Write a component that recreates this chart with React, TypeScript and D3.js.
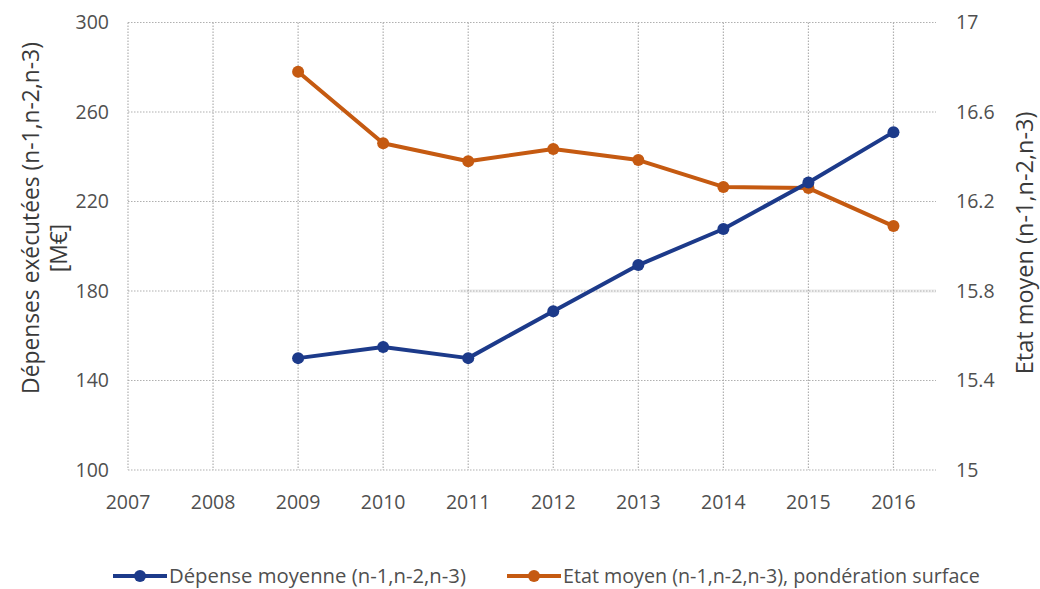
import React from "react";
import * as d3 from "d3";

const years = [2009, 2010, 2011, 2012, 2013, 2014, 2015, 2016];
const depenseMoyenne = [150, 155, 150, 171, 191.6, 207.7, 228.5, 251];
const etatMoyen = [16.78, 16.46, 16.38, 16.435, 16.385, 16.265, 16.26, 16.09];

const xTicks = [2007, 2008, 2009, 2010, 2011, 2012, 2013, 2014, 2015, 2016];
const leftTicks = [100, 140, 180, 220, 260, 300];
const rightTicks = [15, 15.4, 15.8, 16.2, 16.6, 17];

const W = 1040;
const H = 589;
const BLUE = "#1c3a8a";
const ORANGE = "#c55a11";
const FONT = "'Open Sans', sans-serif";
const TICK = "#4f4f4f";

export default function App() {
  const x = d3.scaleLinear().domain([2007, 2016.5]).range([128, 936]);
  const yL = d3.scaleLinear().domain([100, 300]).range([470, 22.5]);
  const yR = d3.scaleLinear().domain([15, 17]).range([470, 22.5]);

  const lineL = d3
    .line<number>()
    .x((_, i) => x(years[i]))
    .y((d) => yL(d));
  const lineR = d3
    .line<number>()
    .x((_, i) => x(years[i]))
    .y((d) => yR(d));

  const [x0, x1] = x.range();

  return (
    <svg
      width={W}
      height={H}
      style={{ position: "absolute", left: 0, top: 0, background: "#fff" }}
      fontFamily={FONT}
    >
      {/* faint band along the 180 gridline */}
      <line x1={x(2010.9)} x2={x1} y1={yL(180)} y2={yL(180)} stroke="#f1f1f1" strokeWidth={3.5} />

      {/* grid */}
      <g stroke="#b0b0b0" strokeWidth={1.2} strokeDasharray="1.5,1.5" fill="none">
        {leftTicks.map((t) => (
          <line key={"h" + t} x1={x0} x2={x1} y1={yL(t)} y2={yL(t)} />
        ))}
        {xTicks.map((t) => (
          <line key={"v" + t} x1={x(t)} x2={x(t)} y1={yL(300)} y2={yL(100)} />
        ))}
      </g>

      {/* left ticks */}
      <g fill={TICK} fontSize={19.5} textAnchor="end">
        {leftTicks.map((t) => (
          <text key={t} x={109} y={yL(t)} dy="0.35em">
            {t}
          </text>
        ))}
      </g>
      {/* right ticks */}
      <g fill={TICK} fontSize={19.5} textAnchor="start">
        {rightTicks.map((t) => (
          <text key={t} x={956} y={yR(t)} dy="0.35em">
            {d3.format("~g")(t)}
          </text>
        ))}
      </g>
      {/* x ticks */}
      <g fill={TICK} fontSize={19.5} textAnchor="middle">
        {xTicks.map((t) => (
          <text key={t} x={x(t)} y={502} dy="0.35em">
            {t}
          </text>
        ))}
      </g>

      {/* axis titles */}
      <g fill="#3a3a3a" textAnchor="middle">
        <text transform="translate(31,218) rotate(-90)" dy="0.35em" fontSize={22.8}>
          Dépenses exécutées (n-1,n-2,n-3)
        </text>
        <text transform="translate(59,248) rotate(-90)" dy="0.35em" fontSize={22.8}>
          [M€]
        </text>
        <text transform="translate(1025,243) rotate(-90)" dy="0.35em" fontSize={23.5}>
          Etat moyen (n-1,n-2,n-3)
        </text>
      </g>

      {/* series */}
      <path d={lineR(etatMoyen) ?? ""} fill="none" stroke={ORANGE} strokeWidth={4} strokeLinejoin="round" />
      {etatMoyen.map((v, i) => (
        <circle key={"o" + i} cx={x(years[i])} cy={yR(v)} r={6} fill={ORANGE} />
      ))}
      <path d={lineL(depenseMoyenne) ?? ""} fill="none" stroke={BLUE} strokeWidth={4} strokeLinejoin="round" />
      {depenseMoyenne.map((v, i) => (
        <circle key={"b" + i} cx={x(years[i])} cy={yL(v)} r={6} fill={BLUE} />
      ))}

      {/* legend */}
      <g>
        <line x1={113} x2={167} y1={576} y2={576} stroke={BLUE} strokeWidth={4} />
        <circle cx={140} cy={576} r={6} fill={BLUE} />
        <text x={169} y={576} dy="0.35em" fontSize={20.3} fill={TICK}>
          Dépense moyenne (n-1,n-2,n-3)
        </text>
        <line x1={507} x2={561} y1={576} y2={576} stroke={ORANGE} strokeWidth={4} />
        <circle cx={534} cy={576} r={6} fill={ORANGE} />
        <text x={563} y={576} dy="0.35em" fontSize={19.7} fill={TICK}>
          Etat moyen (n-1,n-2,n-3), pondération surface
        </text>
      </g>
    </svg>
  );
}
